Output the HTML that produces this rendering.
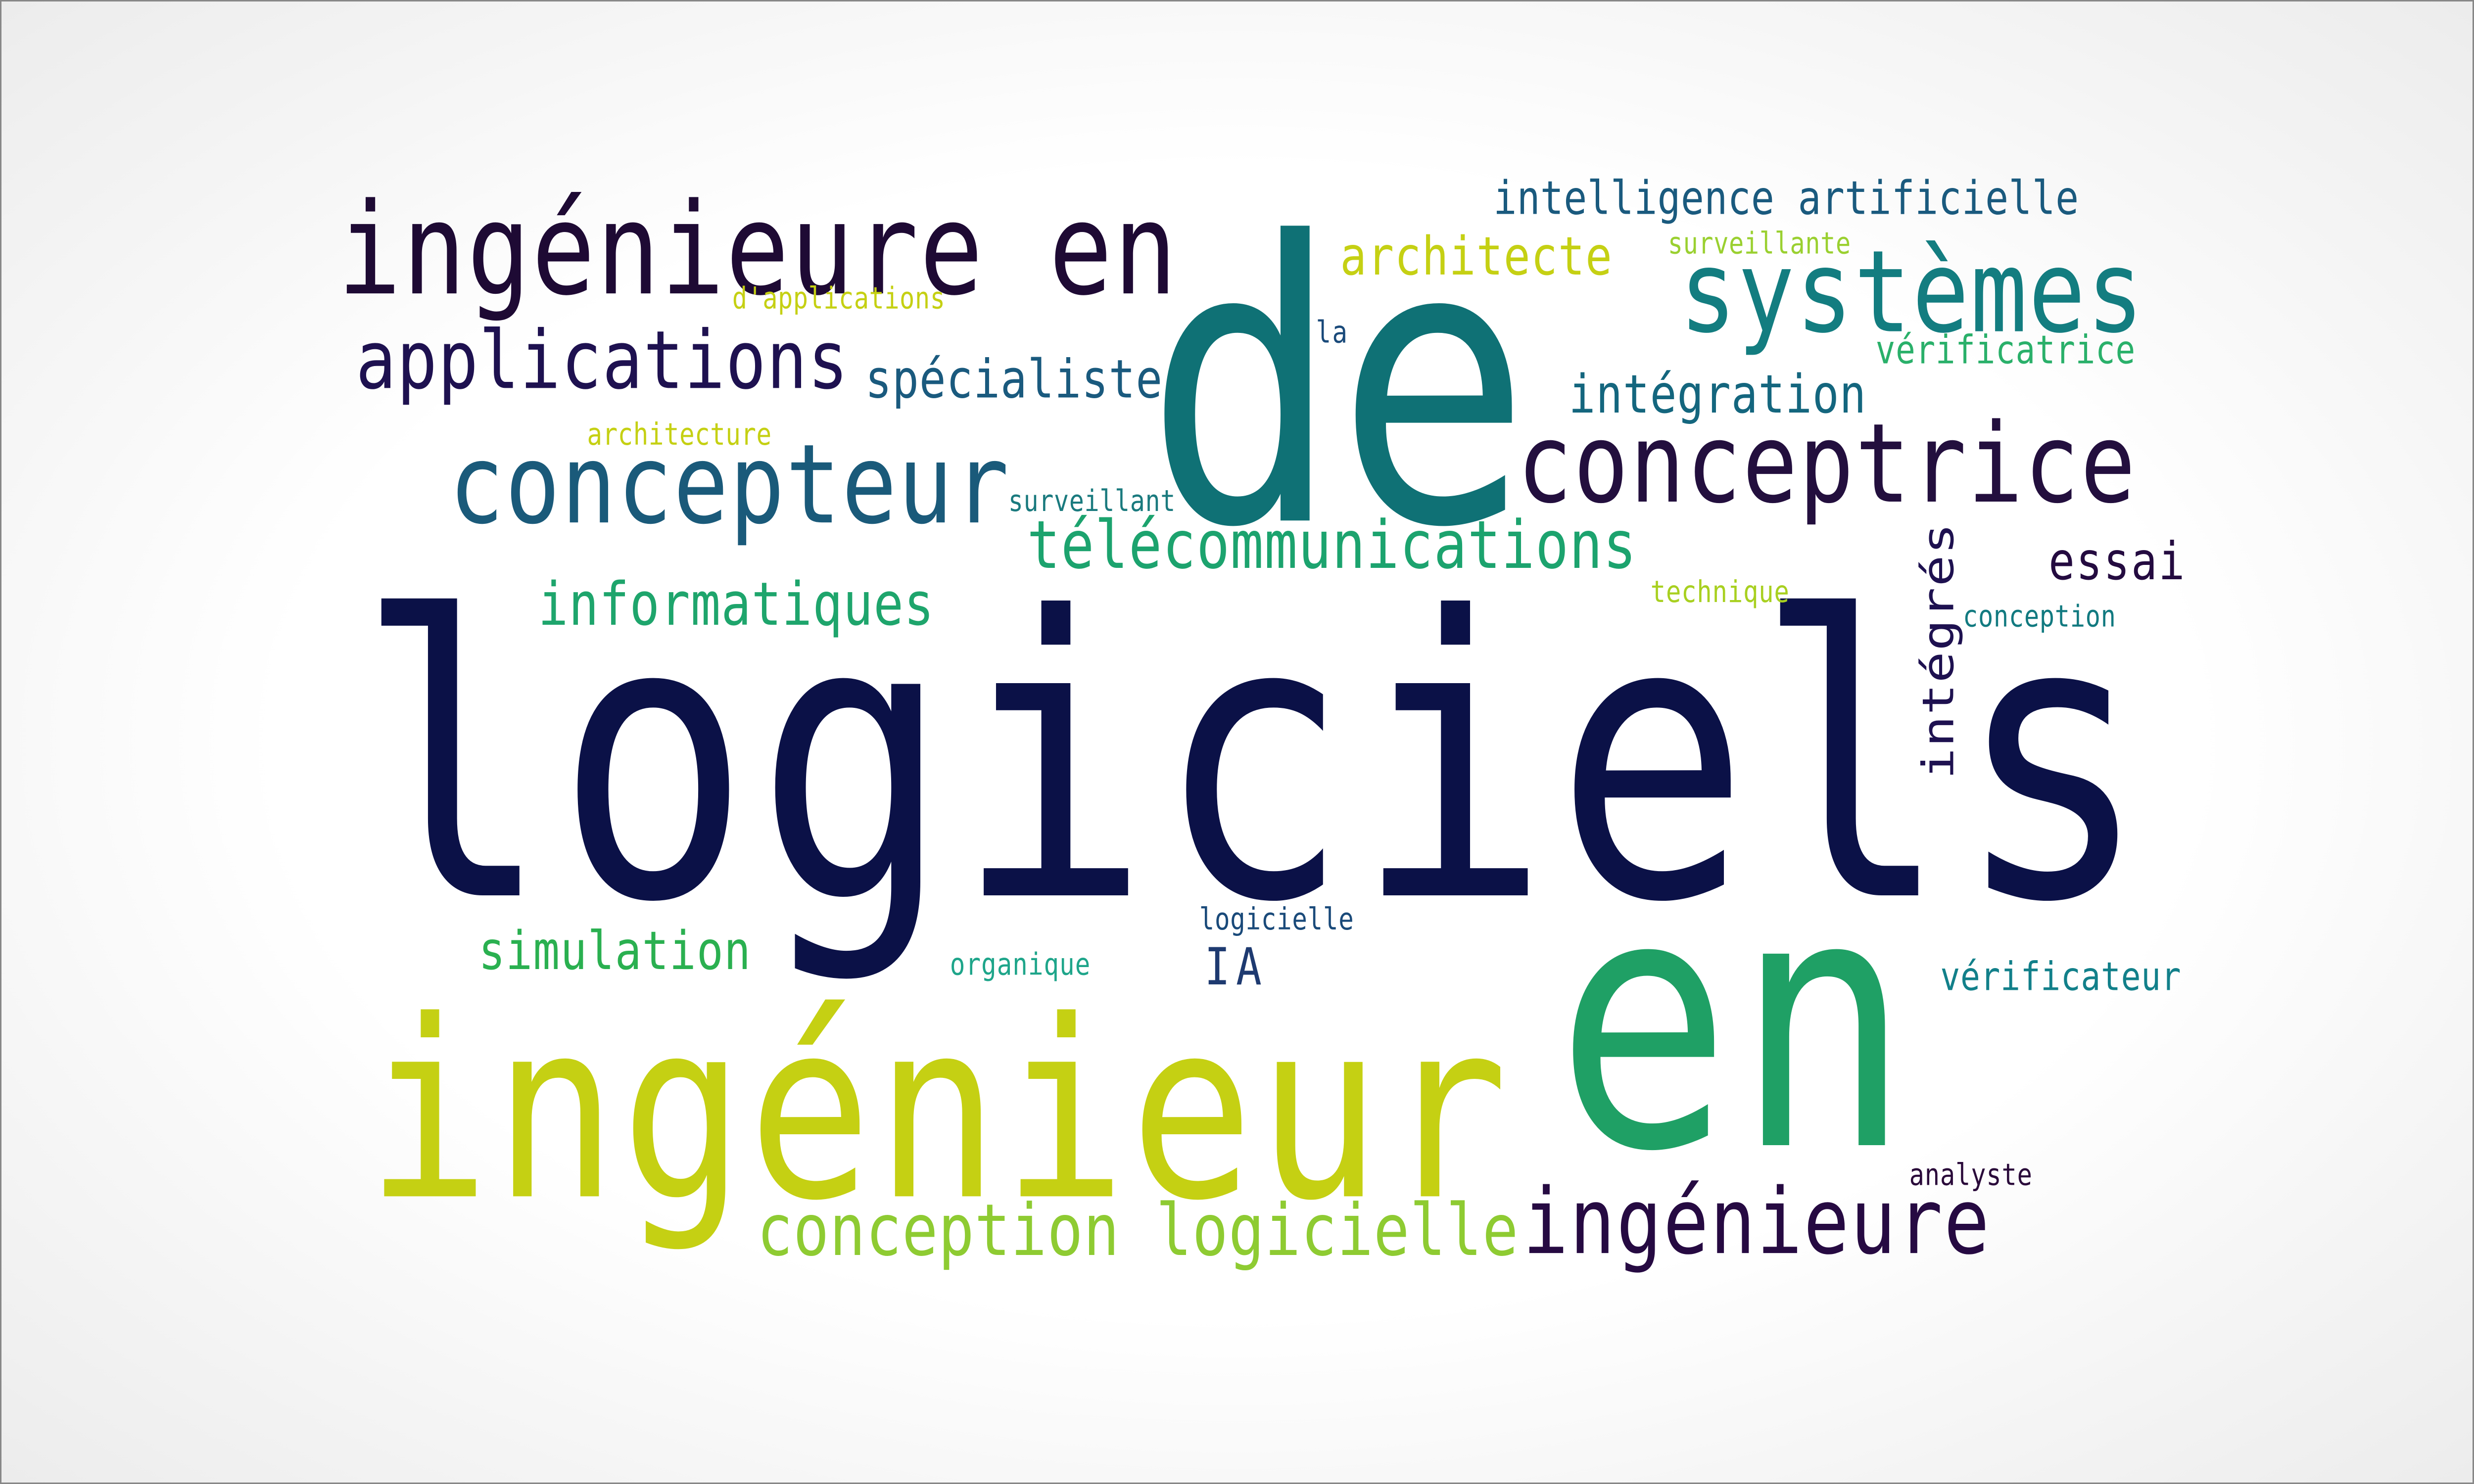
<!DOCTYPE html>
<html>
<head>
<meta charset="utf-8">
<style>
html,body{margin:0;padding:0;width:100vw;height:100vh;overflow:hidden;background:#ddd;}
#frame{position:absolute;left:0;top:0;right:0;bottom:0;box-sizing:border-box;border:3px solid #888;
background:radial-gradient(ellipse at center,#ffffff 0%,#ffffff 55%,#f4f4f4 80%,#ececec 100%);}
svg{position:absolute;left:0;top:0;width:100vw;height:100vh;}
text{font-family:"DejaVu Sans Mono","Liberation Mono",monospace;}
</style>
</head>
<body>
<div id="frame"></div>
<svg id="cloud" viewBox="0 0 1568 784" preserveAspectRatio="none" xmlns="http://www.w3.org/2000/svg"></svg>
<script>
const words = ["logiciels","ingénieur","en","de","ingénieure en","systèmes","applications","concepteur","conceptrice","intelligence artificielle","architecte","surveillante","d'applications","la","vérificatrice","spécialiste","intégration","architecture","surveillant","télécommunications","essai","informatiques","technique","conception","intégrés","simulation","organique","logicielle","IA","vérificateur","conception logicielle","ingénieure","analyste"];
const sizes = [205,130,185,205,67,60,42.5,58,58,24.5,28,15.8,15.8,16,20.7,28,28,16,15.7,35,27.5,31.5,15.9,15.8,27.4,28,16,16,27,20.8,37.8,48,15.8];
const xs = [238,240,997,738,218,1068,228,288,965,948,851,1058,465,835,1190,550,996,373,640,653,1300,343,1047,1245,1238,305,603,761,765,1231,482,968,1211];
const ys = [473,632,605,275,155,175,205,276,265,113,145,134,163,181,192,210,218,235,270,300,306,330,318,331,410,512,515,491,520,523,663,662,626];
const widths = [1112,708,203,220,524,287,307,348,385,368,169,114,133,18,162,185,185,115,104,382,83,247,86,95,132,169,87,96,33,150,478,290,76];
const colors = ["#0b1147","#c5d013","#1fa065","#0f7175","#1e0a34","#137d80","#1e1150","#1a5a7a","#230f3e","#1a5a7e","#c5d013","#9ad030","#c5d013","#1a4a7a","#2ab06a","#1a5a7e","#14667e","#c5d013","#1a7a7e","#1ca36e","#240b40","#1ea56c","#a8d020","#127a80","#1e1150","#2ab050","#1ea58a","#1a4a7a","#1e3a70","#12808a","#8ecb32","#260a42","#2a0a3a"];
const vertical = [false,false,false,false,false,false,false,false,false,false,false,false,false,false,false,false,false,false,false,false,false,false,false,false,true,false,false,false,false,false,false,false,false];
const svg = document.getElementById('cloud');
const NS = "http://www.w3.org/2000/svg";
words.forEach((w,i)=>{
  const t = document.createElementNS(NS,'text');
  
  
  const pad = 0.12 * sizes[i];
  let x = xs[i], y = ys[i];
  if (vertical[i]) { y = ys[i] + pad / 2; } else { x = xs[i] - pad / 2; }
  t.setAttribute('x', x);
  t.setAttribute('y', y);
  t.setAttribute('font-size', sizes[i]);
  t.setAttribute('fill', colors[i]);
  t.setAttribute('textLength', widths[i] + pad);
  t.setAttribute('lengthAdjust', 'spacing');
  if (vertical[i]) t.setAttribute('transform', 'rotate(-90 ' + x + ' ' + y + ')');
  t.textContent = w;
  svg.appendChild(t);
});
</script>
</body>
</html>
